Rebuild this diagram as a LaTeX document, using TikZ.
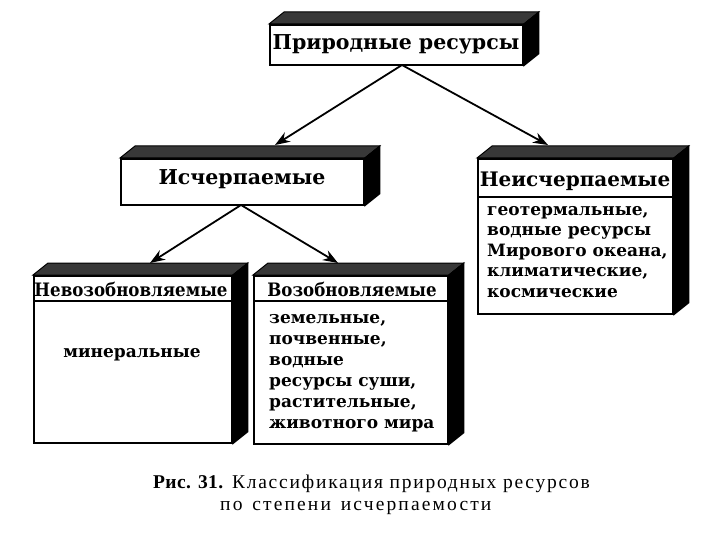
\documentclass[tikz,border=0pt]{standalone}
\usepackage{fontspec}
\setmainfont{DejaVu Serif}
\newfontfamily\narrowfont[FakeStretch=0.9]{DejaVu Serif}
\newfontfamily\capfont[LetterSpace=9]{Liberation Serif}
\newfontfamily\capbold[LetterSpace=2]{Liberation Serif}
\newfontfamily\capfontwide[LetterSpace=11,WordSpace=1.4]{Liberation Serif}
\usetikzlibrary{calc,backgrounds,arrows.meta}
\def\bdx{15}
\def\bdy{12}
\newcommand\boxfaces[1]{%
  \fill[topface] (#1.north west) -- ++(\bdx,-\bdy) -- ($(#1.north east)+(\bdx,-\bdy)$) -- (#1.north east) -- cycle;
  \fill[sideface] (#1.north east) -- ++(\bdx,-\bdy) -- ($(#1.south east)+(\bdx,-\bdy)$) -- (#1.south east) -- cycle;}
\tikzset{
  frontbox/.style={draw=black, line width=1.8pt, fill=white, anchor=north west, inner sep=0pt},
  topface/.style={fill=black!78, draw=black, line width=1pt},
  sideface/.style={fill=black, draw=black, line width=1pt},
  headtxt/.style={font=\bfseries\fontsize{20.5}{24}\selectfont, inner sep=0pt, anchor=base},
  subhead/.style={font=\narrowfont\bfseries\fontsize{18.5}{22}\selectfont, inner sep=0pt, anchor=base},
  bodytxt/.style={font=\bfseries\fontsize{17}{20}\selectfont, inner sep=0pt, anchor=base west},
  sepline/.style={line width=1.5pt},
  arr/.style={line width=1.8pt, -{Stealth[length=15pt,width=11pt]}},
  captxt/.style={inner sep=0pt, anchor=base west},
}
\begin{document}
\begin{tikzpicture}[x=1pt,y=-1pt]
\useasboundingbox (0,0) rectangle (720,540);
% front faces
\node[frontbox, minimum width=253pt, minimum height=40pt] (top) at (269,24) {};
\node[frontbox, minimum width=243pt, minimum height=46pt] (isch) at (120,158) {};
\node[frontbox, minimum width=195pt, minimum height=155pt] (neisch) at (477,158) {};
\node[frontbox, minimum width=198pt, minimum height=167pt] (nevoz) at (33,275) {};
\node[frontbox, minimum width=194pt, minimum height=168pt] (voz) at (253,275) {};
\begin{scope}[on background layer]
  \fill[white] (0,0) rectangle (720,540);
  \boxfaces{top}
  \boxfaces{isch}
  \boxfaces{neisch}
  \boxfaces{nevoz}
  \boxfaces{voz}
\end{scope}
% headers
\node[headtxt] (topT) at (396,50) {Природные ресурсы};
\node[headtxt] (ischT) at (242,185) {Исчерпаемые};
\node[headtxt, font=\bfseries\fontsize{20}{24}\selectfont] (neischT) at (575,187) {Неисчерпаемые};
\node[subhead] (nevozT) at (131,296) {Невозобновляемые};
\node[subhead] (vozT) at (352,296) {Возобновляемые};
% separators
\coordinate (s1) at (0,197);
\coordinate (s2) at (0,301);
\draw[sepline] (neisch.west |- s1) -- (neisch.east |- s1);
\draw[sepline] (nevoz.west |- s2) -- (nevoz.east |- s2);
\draw[sepline] (voz.west |- s2) -- (voz.east |- s2);
% bodies
\node[bodytxt] (n1) at (487,215) {геотермальные,};
\node[bodytxt] (n2) at (487,235.5) {водные ресурсы};
\node[bodytxt] (n3) at (487,256) {Мирового океана,};
\node[bodytxt] (n4) at (487,276.5) {климатические,};
\node[bodytxt] (n5) at (487,297) {космические};
\node[bodytxt, anchor=base] (m1) at (132,357) {минеральные};
\node[bodytxt] (v1) at (269,323) {земельные,};
\node[bodytxt] (v2) at (269,344) {почвенные,};
\node[bodytxt] (v3) at (269,365) {водные};
\node[bodytxt] (v4) at (269,386) {ресурсы суши,};
\node[bodytxt] (v5) at (269,407) {растительные,};
\node[bodytxt] (v6) at (269,428) {животного мира};
% arrows
\coordinate (ts) at (402,65);
\coordinate (tl) at (275,145);
\coordinate (tr) at (548,145);
\coordinate (is) at (241,205);
\coordinate (il) at (150,263);
\coordinate (ir) at (338,263);
\draw[arr] (ts) -- (tl);
\draw[arr] (ts) -- (tr);
\draw[arr] (is) -- (il);
\draw[arr] (is) -- (ir);
% caption
\node[captxt, font=\capfont\fontsize{19.5}{23}\selectfont] (cap1) at (153,488) {{\capbold\bfseries Рис. 31.} Классификация природных ресурсов};
\node[captxt, font=\capfontwide\fontsize{19.5}{23}\selectfont] (cap2) at (220,510) {по степени исчерпаемости};
\end{tikzpicture}
\end{document}
